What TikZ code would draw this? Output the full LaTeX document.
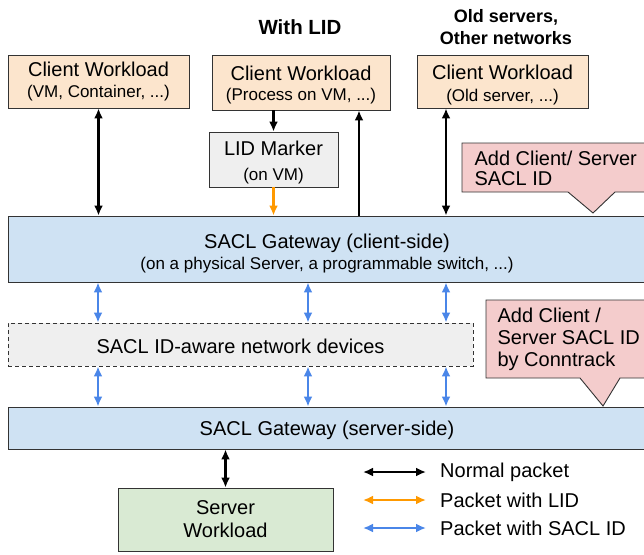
\documentclass[tikz,border=0pt]{standalone}
\usepackage{fontspec}
\setmainfont{Liberation Sans}
\usetikzlibrary{arrows.meta,positioning}

\definecolor{peach}{HTML}{FCE5CD}
\definecolor{markgray}{HTML}{EFEFEF}
\definecolor{gwblue}{HTML}{CFE2F3}
\definecolor{srvgreen}{HTML}{D9EAD3}
\definecolor{notepink}{HTML}{F4CCCC}
\definecolor{lidorange}{HTML}{FF9900}
\definecolor{saclblue}{HTML}{4A86E8}
\definecolor{boxline}{HTML}{333333}

\newcommand{\txtmain}{\fontsize{20}{23}\selectfont}
\newcommand{\txtsub}{\fontsize{17}{20}\selectfont}
\newcommand{\txthead}{\fontsize{18}{22}\selectfont\bfseries}

\tikzset{
  box/.style={draw=boxline, line width=0.9pt, inner sep=0pt, align=center, font=\txtmain},
  note/.style={fill=notepink, draw=boxline, line width=0.9pt},
  pkt/.style={line width=2.1pt, -{Latex[length=10pt,width=9pt]}},
  pktboth/.style={pkt, {Latex[length=10pt,width=9pt]}-{Latex[length=10pt,width=9pt]}}
}

\begin{document}
\begin{tikzpicture}[x=1pt,y=-1pt]
  \useasboundingbox (0,0) rectangle (644,554);

  % headings
  \node[font=\fontsize{20.5}{24}\selectfont\bfseries] (hlid) at (300,27) {With LID};
  \node[font=\txthead, align=center] (hold) at (506,27) {Old servers,\\Other networks};

  % client side
  \node[box, fill=peach, minimum width=181pt, minimum height=53pt] (cw1) at (98.5,81.5)
    {Client Workload\\[-2pt]{\txtsub(VM, Container, ...)}};
  \node[box, fill=peach, minimum width=178pt, minimum height=55pt] (cw2) at (301,82.5)
    {\rule{0pt}{20pt}Client Workload\\[-3pt]{\txtsub(Process on VM, ...)}};
  \node[box, fill=peach, minimum width=171pt, minimum height=53pt] (cw3) at (502.5,81.5)
    {\rule{0pt}{21pt}Client Workload\\[-1pt]{\txtsub(Old server, ...)}};
  \node[box, fill=markgray, minimum width=129pt, minimum height=55pt] (lid) at (273.5,159.5)
    {\rule{0pt}{20pt}LID Marker\\[2pt]{\txtsub(on VM)}};

  % gateways and network
  \node[box, fill=gwblue, minimum width=638pt, minimum height=66pt] (gwc) at (327,249)
    {\rule{0pt}{23pt}SACL Gateway (client-side)\\[-2pt]{\txtsub(on a physical Server, a programmable switch, ...)}};
  \node[box, fill=markgray, dashed, dash pattern=on 4pt off 3pt, minimum width=465pt, minimum height=43pt] (dev) at (240.5,344.5)
    {\rule{0pt}{18pt}SACL ID-aware network devices};
  \node[box, fill=gwblue, minimum width=638pt, minimum height=42pt] (gws) at (327,428)
    {\rule{0pt}{20pt}SACL Gateway (server-side)};
  \node[box, fill=srvgreen, minimum width=215pt, minimum height=63pt] (srv) at (225.5,519.5)
    {Server\\Workload};

  % notes
  \draw[note] (462,143) -- (660,143) -- (660,192) -- (615,192) -- (593,213) -- (568,192) -- (462,192) -- cycle;
  \node[anchor=west, align=left, font=\fontsize{20}{20}\selectfont] (note1) at (471,168.5)
    {Add Client/ Server\\SACL ID};
  \draw[note] (486,300) -- (660,300) -- (660,378) -- (620,378) -- (603,406) -- (580,378) -- (486,378) -- cycle;
  \node[anchor=west, align=left, font=\fontsize{20}{22}\selectfont] (note2) at (494,339)
    {Add Client /\\Server SACL ID\\by Conntrack};

  % columns
  \coordinate (colup) at (359,0);
  \coordinate (colold) at (446,0);
  \coordinate (col1) at (98,0);
  \coordinate (col2) at (308,0);
  \coordinate (col3) at (446,0);

  % packets
  \draw[pktboth] (cw1.south) -- (cw1.south |- gwc.north);
  \draw[pkt] (lid.north |- cw2.south) -- (lid.north);
  \draw[pkt, lidorange] (lid.south) -- (lid.south |- gwc.north);
  \draw[pkt] (gwc.north -| colup) -- (cw2.south -| colup);
  \draw[pktboth] (cw3.south -| colold) -- (gwc.north -| colold);
  \foreach \c in {col1,col2,col3} {
    \draw[pktboth, saclblue] (gwc.south -| \c) -- (dev.north -| \c);
    \draw[pktboth, saclblue] (dev.south -| \c) -- (gws.north -| \c);
  }
  \draw[pktboth] (gws.south -| srv.north) -- (srv.north);

  % legend
  \foreach \y/\col/\txt [count=\i] in {472/black/Normal packet, 500/lidorange/Packet with LID, 528/saclblue/Packet with SACL ID} {
    \coordinate (lga\i) at (363,\y);
    \coordinate (lgb\i) at (426,\y);
    \draw[pktboth, \col] (lga\i) -- (lgb\i);
    \node[anchor=west, font=\txtmain, inner sep=0pt] (lgt\i) at (440,\y) {\txt};
  }
\end{tikzpicture}
\end{document}
